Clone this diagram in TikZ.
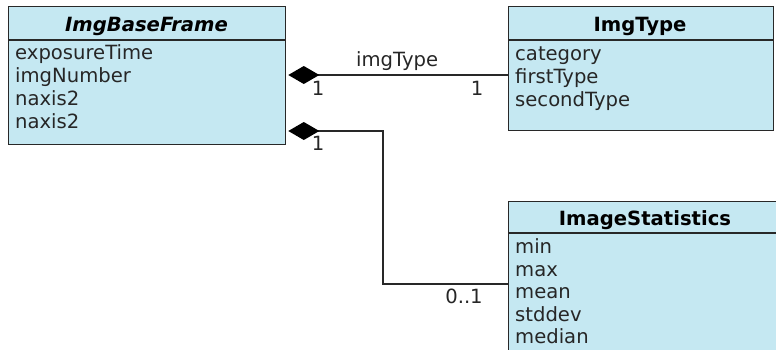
\documentclass[tikz,border=0pt]{standalone}
\usepackage{fontspec}
\setmainfont{DejaVu Sans}
\usetikzlibrary{positioning, arrows.meta}
\definecolor{classfill}{RGB}{197,232,242}
\definecolor{umlline}{RGB}{40,40,40}

\begin{document}
\begin{tikzpicture}[x=1pt, y=-1pt, font=\fontsize{19.6}{23}\selectfont,
					class/.style={draw=umlline, fill=classfill, line width=1.3pt, inner sep=0pt, anchor=north west},
					divider/.style={draw=umlline, line width=1.3pt},
					title/.style={anchor=base, inner sep=0pt, font=\fontsize{19.6}{23}\selectfont\bfseries},
					attr/.style={anchor=base west, inner sep=0pt, text=black!85},
					comp/.style={{Diamond[length=31pt, width=18pt, color=black]}-, draw=umlline, line width=1.3pt, shorten <=2pt},
					mult/.style={anchor=base, inner sep=0pt, text=black!85} ]
	\useasboundingbox (0,0) rectangle (776,349);

	%Classes
	\node[class, minimum width=277pt, minimum height=138pt] (frame) at (8,6)   {};
	\node[class, minimum width=265pt, minimum height=124pt] (type)  at (508,6) {};
	\node[class, minimum width=274pt, minimum height=160pt] (stats) at (508,201) {};

	\draw[divider] (frame.west |- 0,40)  -- (frame.east |- 0,40);
	\draw[divider] (type.west |- 0,40)   -- (type.east |- 0,40);
	\draw[divider] (stats.west |- 0,233) -- (stats.east |- 0,233);

	\node[title] (frametitle) at (146.5,31) {\itshape ImgBaseFrame};
	\node[title] (typetitle)  at (640,31)   {ImgType};
	\node[title] (statstitle) at (645,225)  {ImageStatistics};

	%Attributes
	\foreach \t [count=\i] in {exposureTime, imgNumber, naxis2, naxis2}
		\node[attr] (frameattr\i) at (15,36+23*\i) {\t};
	\foreach \t [count=\i] in {category, firstType, secondType}
		\node[attr] (typeattr\i) at (515,37+23*\i) {\t};
	\foreach \t [count=\i] in {min, max, mean, stddev, median}
		\node[attr] (statsattr\i) at (515,231+22.5*\i) {\t};

	%Associations
	\coordinate (elbow) at (383,131);
	\draw[comp] (frame.east |- 0,75) -- node[mult, above=4pt] (assoclabel) {imgType} (type.west |- 0,75);
	\draw[comp] (frame.east |- 0,131) -- (elbow) |- (stats.west |- 0,284);

	\node[mult] (mult1) at (318,95)  {1};
	\node[mult] (mult2) at (477,95)  {1};
	\node[mult] (mult3) at (318,150) {1};
	\node[mult] (mult4) at (464,303) {0..1};
\end{tikzpicture}
\end{document}
